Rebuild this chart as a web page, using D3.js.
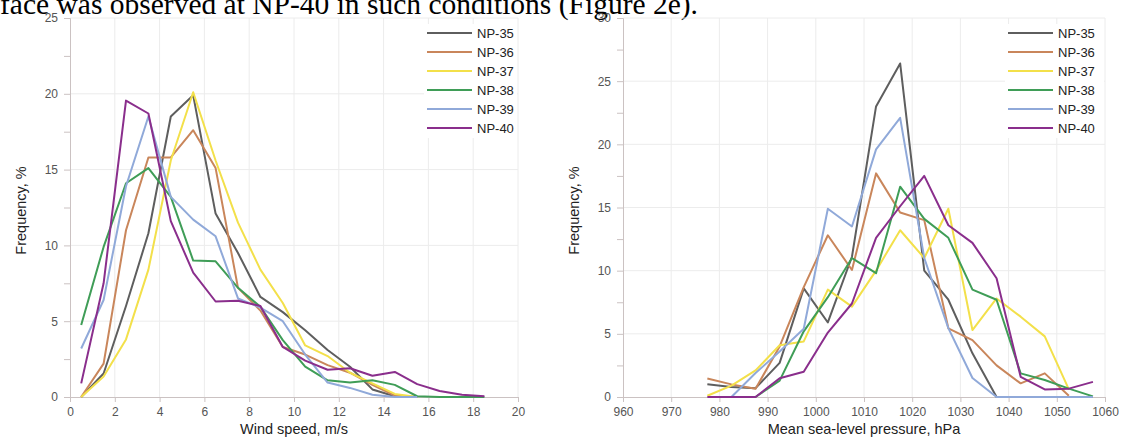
<!DOCTYPE html>
<meta charset="utf-8">
<script src="https://d3js.org/d3.v7.min.js"></script>
<style>
  body { margin: 0; background: #fff; }
  svg text { font-family: "Liberation Sans", Arial, sans-serif; }
</style>
<div id="chart"></div>
<script>

// series names and colours
const stations = ["NP-35", "NP-36", "NP-37", "NP-38", "NP-39", "NP-40"];
const colors = ["#5e5e5e", "#c9865b", "#f3e04a", "#3f9d57", "#90a9d9", "#8a2e8c"];

// wind speed bins (m/s) and frequency, %
const windBins = [0.5, 1.5, 2.5, 3.5, 4.5, 5.5, 6.5, 7.5, 8.5, 9.5, 10.5, 11.5, 12.5, 13.5, 14.5, 15.5, 16.5, 17.5, 18.5];
const wind35 = [0, 1.55, 6.0, 10.8, 18.5, 19.9, 12.1, 9.5, 6.6, 5.6, 4.4, 3.1, 2.0, 0.5, 0.05, 0];
const wind36 = [0, 2.2, 11.0, 15.8, 15.8, 17.6, 15.1, 7.2, 5.7, 3.3, 2.8, 2.1, 1.6, 0.8, 0.1, 0];
const wind37 = [0, 1.35, 3.8, 8.4, 15.6, 20.1, 15.6, 11.5, 8.4, 6.2, 3.4, 2.7, 1.6, 0.9, 0.2, 0];
const wind38 = [4.75, 9.9, 14.1, 15.1, 13.2, 9.0, 8.95, 7.2, 5.95, 3.75, 2.0, 1.1, 0.95, 1.1, 0.8, 0.05, 0, 0, 0];
const wind39 = [3.2, 6.4, 13.9, 18.5, 13.2, 11.7, 10.6, 6.5, 5.9, 5.0, 2.8, 0.95, 0.6, 0.15, 0, 0];
const wind40 = [0.9, 7.5, 19.55, 18.7, 11.6, 8.2, 6.3, 6.35, 6.0, 3.3, 2.4, 1.8, 1.9, 1.4, 1.65, 0.85, 0.4, 0.15, 0.05];

// sea-level pressure bins (hPa) and frequency, %
const presBins = [977.5, 982.5, 987.5, 992.5, 997.5, 1002.5, 1007.5, 1012.5, 1017.5, 1022.5, 1027.5, 1032.5, 1037.5, 1042.5, 1047.5, 1052.5, 1057.5];
const pres35 = [1.0, 0.8, 0.7, 2.7, 8.6, 5.9, 11.1, 23.0, 26.4, 10.0, 7.7, 3.46, 0, 0, 0, 0, 0];
const pres36 = [1.47, 1.0, 0.66, 4.0, 8.7, 12.8, 10.05, 17.7, 14.6, 14.0, 5.44, 4.5, 2.5, 1.08, 1.87, 0.1];
const pres37 = [0.1, 0.9, 2.1, 4.1, 4.4, 8.5, 7.15, 10.0, 13.2, 11.0, 14.9, 5.3, 7.8, 6.36, 4.8, 0.6];
const pres38 = [null, null, 0, 1.3, 5.2, 7.9, 11.0, 9.8, 16.65, 14.1, 12.6, 8.5, 7.7, 1.87, 1.35, 0.66, 0.05];
const pres39 = [null, 0, 1.9, 3.6, 5.4, 14.9, 13.5, 19.6, 22.1, 11.0, 5.45, 1.5, 0, 0, 0, 0, 0];
const pres40 = [0, 0, 0, 1.48, 2.0, 5.1, 7.4, 12.6, 15.1, 17.5, 13.6, 12.2, 9.4, 1.6, 0.6, 0.66, 1.2];

const windXTicks = [0, 2, 4, 6, 8, 10, 12, 14, 16, 18, 20];
const windYTicks = [0, 5, 10, 15, 20, 25];
const presXTicks = [960, 970, 980, 990, 1000, 1010, 1020, 1030, 1040, 1050, 1060];
const presYTicks = [0, 5, 10, 15, 20, 25, 30];

const W = 1122, H = 438;
const svg = d3.select("#chart").append("svg")
    .attr("width", W)
    .attr("height", H);

// fragment of the paper text cut at the top of the picture
svg.append("text")
    .attr("x", 0)
    .attr("y", 14)
    .style("font-family", "'Liberation Serif', 'Times New Roman', serif")
    .style("font-size", "29.5px")
    .attr("fill", "#000")
    .text("face was observed at NP-40 in such conditions (Figure 2e).");

function drawPanel(opt) {
  const x = d3.scaleLinear().domain(opt.xDomain).range([opt.left, opt.right]);
  const y = d3.scaleLinear().domain(opt.yDomain).range([opt.bottom, opt.top]);
  const g = svg.append("g");

  // grid
  g.append("g")
    .selectAll("line")
    .data(opt.xTicks.slice(1))
    .join("line")
      .attr("x1", d => x(d)).attr("x2", d => x(d))
      .attr("y1", opt.top).attr("y2", opt.bottom)
      .attr("stroke", "#ececec").attr("stroke-width", 1);
  g.append("g")
    .selectAll("line")
    .data(opt.yTicks.slice(1))
    .join("line")
      .attr("x1", opt.left).attr("x2", opt.right)
      .attr("y1", d => y(d)).attr("y2", d => y(d))
      .attr("stroke", "#ececec").attr("stroke-width", 1);

  // y axis with minor ticks
  const step = opt.yTicks[1] - opt.yTicks[0];
  const minor = d3.range(opt.yDomain[0], opt.yDomain[1] + 0.001, step / 2);
  const yAxis = g.append("g")
    .attr("transform", `translate(${opt.left},0)`)
    .call(d3.axisLeft(y).tickValues(minor).tickSize(6)
      .tickFormat(d => opt.yTicks.includes(d) ? d : ""));
  yAxis.select(".domain").attr("stroke", "#cbc2c2");
  yAxis.selectAll(".tick line").attr("stroke", "#cbc2c2");
  yAxis.selectAll(".tick text")
    .attr("x", -12)
    .attr("fill", "#555")
    .style("font-size", "12px");

  // x axis
  const xAxis = g.append("g")
    .attr("transform", `translate(0,${opt.bottom})`)
    .call(d3.axisBottom(x).tickValues(opt.xTicks).tickSize(5).tickSizeOuter(0)
      .tickFormat(d3.format("d")));
  xAxis.select(".domain").attr("stroke", "#cbc2c2");
  xAxis.selectAll(".tick line").attr("stroke", "#cbc2c2");
  xAxis.selectAll(".tick text")
    .attr("y", 10)
    .attr("fill", "#555")
    .style("font-size", "12px");

  // lines
  const line = d3.line()
    .defined(d => d[1] != null)
    .x(d => x(d[0]))
    .y(d => y(d[1]));
  opt.series.forEach((vals, i) => {
    const pts = vals.map((v, j) => [opt.bins[j], v]);
    g.append("path")
      .datum(pts)
      .attr("d", line)
      .attr("fill", "none")
      .attr("stroke", colors[i])
      .attr("stroke-width", 2)
      .attr("stroke-linejoin", "round");
  });

  // axis titles
  g.append("text")
    .attr("x", (opt.left + opt.right) / 2)
    .attr("y", 434)
    .attr("text-anchor", "middle")
    .attr("fill", "#222")
    .style("font-size", "14.5px")
    .text(opt.xLabel);
  g.append("text")
    .attr("transform", `translate(${opt.yLabelX},${(opt.top + opt.bottom) / 2 + 3}) rotate(-90)`)
    .attr("text-anchor", "middle")
    .attr("fill", "#222")
    .style("font-size", "14.5px")
    .text("Frequency, %");

  // legend
  const leg = g.append("g");
  leg.append("rect")
    .attr("x", opt.legendX - 3).attr("y", 24)
    .attr("width", opt.right - opt.legendX + 2).attr("height", 114)
    .attr("fill", "#fff");
  stations.forEach((s, i) => {
    const ly = 33 + i * 19;
    leg.append("line")
      .attr("x1", opt.legendX).attr("x2", opt.legendX + 45)
      .attr("y1", ly).attr("y2", ly)
      .attr("stroke", colors[i]).attr("stroke-width", 2);
    leg.append("text")
      .attr("x", opt.legendX + 50)
      .attr("y", ly + 4.5)
      .attr("fill", "#222")
      .style("font-size", "13px")
      .text(s);
  });
}

drawPanel({
  left: 70, right: 518, top: 18, bottom: 397,
  xDomain: [0, 20], yDomain: [0, 25],
  xTicks: windXTicks, yTicks: windYTicks,
  bins: windBins,
  series: [wind35, wind36, wind37, wind38, wind39, wind40],
  xLabel: "Wind speed, m/s",
  yLabelX: 26,
  legendX: 427
});

drawPanel({
  left: 623, right: 1105, top: 18, bottom: 397,
  xDomain: [960, 1060], yDomain: [0, 30],
  xTicks: presXTicks, yTicks: presYTicks,
  bins: presBins,
  series: [pres35, pres36, pres37, pres38, pres39, pres40],
  xLabel: "Mean sea-level pressure, hPa",
  yLabelX: 579,
  legendX: 1008
});

</script>
</html>
